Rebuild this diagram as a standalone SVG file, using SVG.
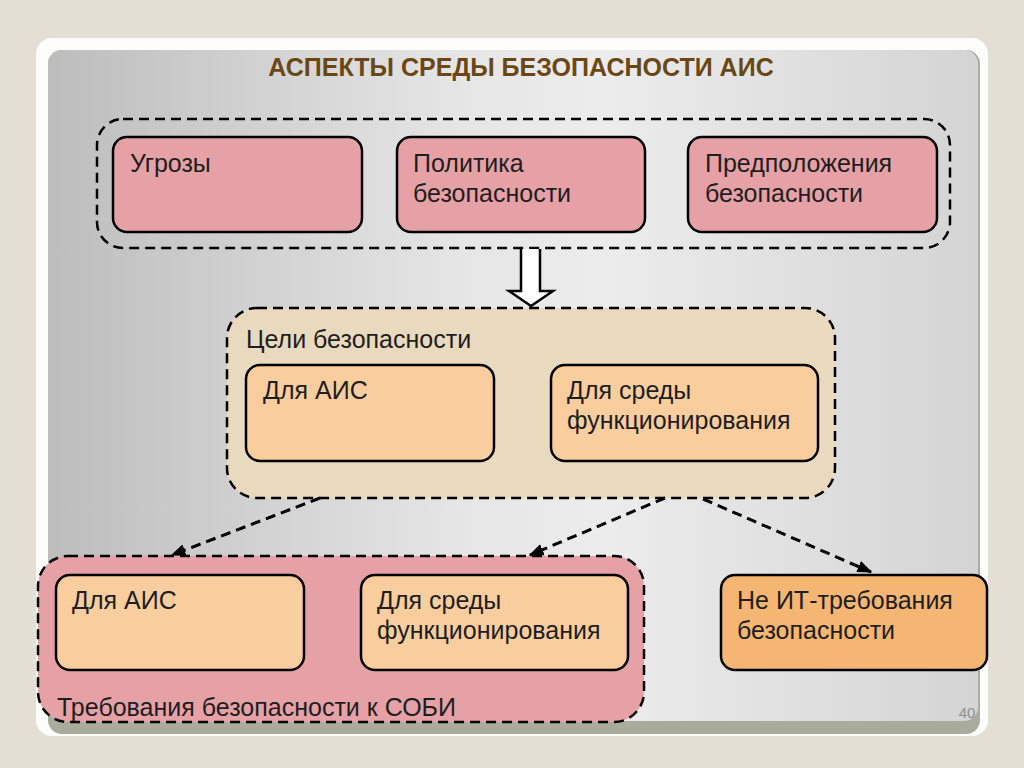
<svg xmlns="http://www.w3.org/2000/svg" width="1024" height="768" viewBox="0 0 1024 768">
<defs>
<linearGradient id="panel" x1="0" y1="0" x2="1" y2="0">
<stop offset="0" stop-color="#bdbdbd"/>
<stop offset="0.45" stop-color="#e6e6e6"/>
<stop offset="0.6" stop-color="#ececec"/>
<stop offset="1" stop-color="#d4d4d4"/>
</linearGradient>
<marker id="ah" viewBox="0 0 10 10" refX="9" refY="5" markerWidth="5" markerHeight="5" orient="auto" markerUnits="strokeWidth">
<path d="M0,1 L10,5 L0,9 z" fill="#000"/>
</marker>
<style>
.t{font-family:"Liberation Sans",Arial,sans-serif;font-size:25px;fill:#1e1e1e}
.box{stroke:#000;stroke-width:2.5}
.pink{fill:#e6a1a7}
.peach{fill:#f9cd9e}
.dash{fill:none;stroke:#000;stroke-width:2.5;stroke-dasharray:10 6}
</style>
</defs>
<rect width="1024" height="768" fill="#e3dfd5"/>
<rect x="36" y="38" width="952" height="698" rx="16" fill="#fdfdfb"/>
<rect x="48" y="50" width="932" height="684" rx="14" fill="#a9ab9d"/>
<rect x="48" y="50" width="930" height="671" rx="14" fill="url(#panel)"/>
<text x="521" y="76" text-anchor="middle" style="font-family:'Liberation Sans',Arial,sans-serif;font-size:25px;font-weight:bold;fill:#6b4716">АСПЕКТЫ СРЕДЫ БЕЗОПАСНОСТИ АИС</text>
<text x="967" y="718" text-anchor="middle" style="font-family:'Liberation Sans',Arial,sans-serif;font-size:15px;fill:#8f8f8f">40</text>

<g id="top-group">
<rect x="97" y="119" width="853" height="129" rx="26" class="dash"/>
</g>
<g id="threats">
<rect x="113" y="137" width="249" height="95" rx="14" class="box pink"/>
<text x="130" y="172" class="t">Угрозы</text>
</g>
<g id="policy">
<rect x="397" y="137" width="248" height="95" rx="14" class="box pink"/>
<text x="413" y="172" class="t">Политика</text>
<text x="413" y="202" class="t">безопасности</text>
</g>
<g id="assumptions">
<rect x="688" y="137" width="249" height="95" rx="14" class="box pink"/>
<text x="705" y="172" class="t">Предположения</text>
<text x="705" y="202" class="t">безопасности</text>
</g>

<g id="goals">
<rect x="227" y="308" width="608" height="190" rx="30" fill="#e9d9bf" stroke="#000" stroke-width="2.5" stroke-dasharray="10 6"/>
<text x="246" y="348" class="t">Цели безопасности</text>
</g>
<g id="goals-ais">
<rect x="246" y="365" width="248" height="96" rx="14" class="box peach"/>
<text x="263" y="399" class="t">Для АИС</text>
</g>
<g id="goals-env">
<rect x="551" y="365" width="267" height="96" rx="14" class="box peach"/>
<text x="567" y="399" class="t">Для среды</text>
<text x="567" y="429" class="t">функционирования</text>
</g>

<g id="requirements">
<rect x="38" y="556" width="606" height="166" rx="30" fill="#e6a1a7" stroke="#000" stroke-width="2.5" stroke-dasharray="10 6"/>
<text x="57" y="716" class="t">Требования безопасности к СОБИ</text>
</g>
<g id="req-ais">
<rect x="56" y="575" width="248" height="95" rx="14" class="box peach"/>
<text x="72" y="609" class="t">Для АИС</text>
</g>
<g id="req-env">
<rect x="361" y="575" width="267" height="95" rx="14" class="box peach"/>
<text x="377" y="609" class="t">Для среды</text>
<text x="377" y="639" class="t">функционирования</text>
</g>
<g id="non-it">
<rect x="721" y="575" width="266" height="95" rx="14" class="box" fill="#f5b573"/>
<text x="737" y="609" class="t">Не ИТ-требования</text>
<text x="737" y="639" class="t">безопасности</text>
</g>

<g id="connectors">
<path d="M521,249 V291 H509 L531,306 L553,291 H540 V249" fill="#fff" stroke="#000" stroke-width="2.5" stroke-linejoin="miter"/>
<line x1="320" y1="498" x2="172" y2="555" stroke="#000" stroke-width="3" stroke-dasharray="10 6" marker-end="url(#ah)"/>
<line x1="665" y1="498" x2="530" y2="555" stroke="#000" stroke-width="3" stroke-dasharray="10 6" marker-end="url(#ah)"/>
<line x1="703" y1="499" x2="871" y2="572" stroke="#000" stroke-width="3" stroke-dasharray="10 6" marker-end="url(#ah)"/>
</g>
</svg>
